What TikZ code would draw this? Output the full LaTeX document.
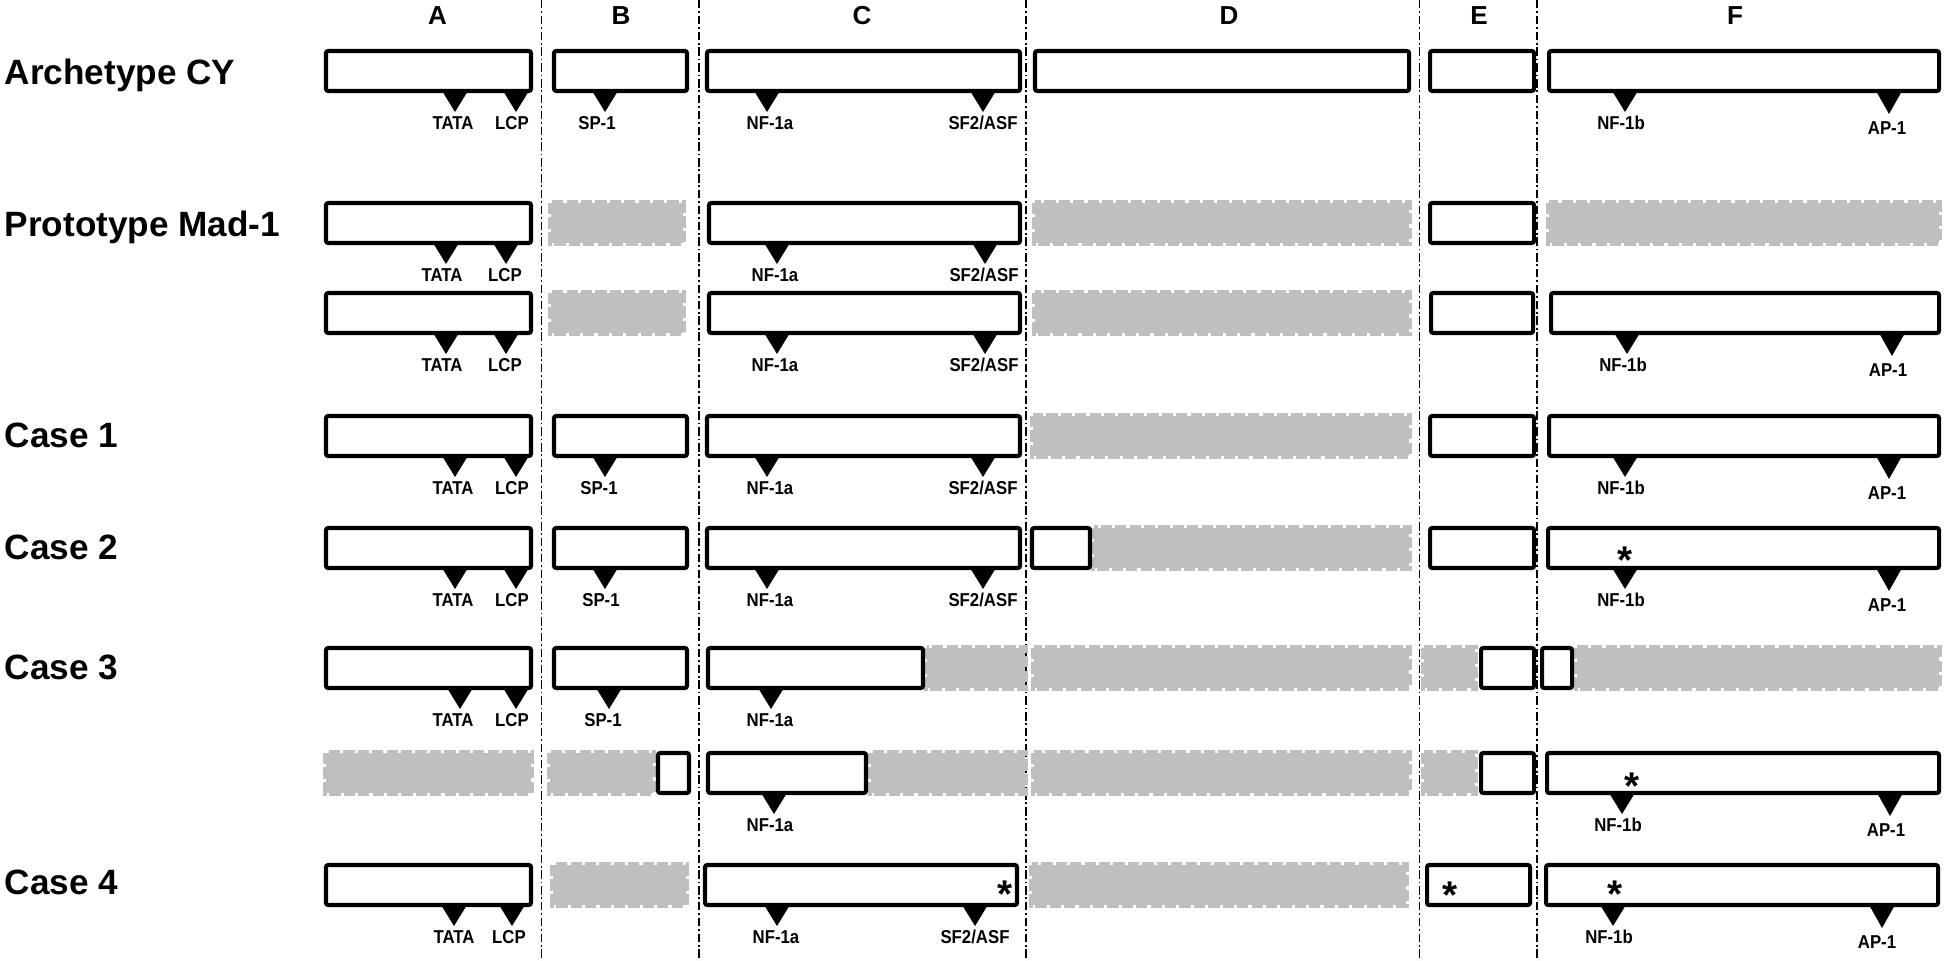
\documentclass[tikz,border=0pt]{standalone}
\usepackage{fontspec}
\setmainfont{Liberation Sans}
\newfontfamily\lblfont[FakeStretch=0.9]{Liberation Sans}
\definecolor{gblk}{RGB}{191,191,191}
\newcounter{lab}
\tikzset{
  wbox/.style={draw=black, line width=1.15pt, fill=white, rounded corners=0.6pt},
  gbox/.style={fill=gblk, draw=gblk, line width=1.5pt, dash pattern=on 3.2pt off 0.9pt},
  lbl/.style={font=\lblfont\bfseries\fontsize{5.3}{6}\selectfont, inner sep=0pt},
  rowlbl/.style={font=\bfseries\fontsize{10}{12}\selectfont, inner sep=0pt, anchor=west},
  hdr/.style={font=\bfseries\fontsize{7.4}{9}\selectfont, inner sep=0pt},
  astk/.style={font=\bfseries\fontsize{11}{12}\selectfont, inner sep=0pt},
  sep/.style={line width=0.45pt, dash pattern=on 2.4pt off 0.8pt on 0.5pt off 0.8pt}
}
% white box: x1, x2, top
\newcommand{\wbox}[3]{\draw[wbox] (#1,#3) rectangle (#2,#3+40);}
% gray (deleted) block: x1, x2, top
\newcommand{\gbox}[3]{\fill[gblk] (#1,#3) rectangle (#2,#3+40);\draw[gbox] (#1,#3) rectangle (#2,#3+40);}
% binding site: apex x, box top, label x, text
\newcommand{\site}[4]{%
  \fill (#1-13.5,#2+39) -- (#1+13.5,#2+39) -- (#1,#2+61) -- cycle;
  \stepcounter{lab}\node[lbl] (lab\arabic{lab}) at (#3,#2+72) {#4};}
\newcommand{\siteap}[3]{%
  \fill (#1-13.5,#2+39) -- (#1+13.5,#2+39) -- (#1,#2+63) -- cycle;
  \stepcounter{lab}\node[lbl] (lab\arabic{lab}) at (#3,#2+77) {AP-1};}
\newcommand{\astmark}[2]{\stepcounter{lab}\node[astk] (ast\arabic{lab}) at (#1,#2+8) {*};}
\begin{document}
\begin{tikzpicture}[x=0.01cm,y=-0.01cm]
\useasboundingbox (0,0) rectangle (1946,961);
% column separators
\foreach \xx/\nm in {541.5/ab,699/bc,1026/cd,1419.5/de,1537/ef}{
  \coordinate (t\nm) at (\xx,0);
  \coordinate (b\nm) at (\xx,961);
  \draw[sep] (t\nm) -- (b\nm);
}
% headers
\node[hdr] (hA) at (437.5,16) {A};
\node[hdr] (hB) at (621,16) {B};
\node[hdr] (hC) at (862,16) {C};
\node[hdr] (hD) at (1229,16) {D};
\node[hdr] (hE) at (1479,16) {E};
\node[hdr] (hF) at (1735,16) {F};
% row labels
\node[rowlbl] (r1) at (4,75) {Archetype CY};
\node[rowlbl] (r2) at (4,227) {Prototype Mad-1};
\node[rowlbl] (r4) at (4,435) {Case 1};
\node[rowlbl] (r5) at (4,547) {Case 2};
\node[rowlbl] (r6) at (4,667) {Case 3};
\node[rowlbl] (r8) at (4,882) {Case 4};

% ---- Row 1: Archetype CY
\def\T{51}
\wbox{326}{531}{\T}\site{455}{\T}{453}{TATA}\site{516}{\T}{512}{LCP}
\wbox{554}{687}{\T}\site{605}{\T}{597}{SP-1}
\wbox{707}{1020}{\T}\site{767}{\T}{770}{NF-1a}\site{983}{\T}{983}{SF2/ASF}
\wbox{1035}{1409}{\T}
\wbox{1430}{1534}{\T}
\wbox{1549}{1939}{\T}\site{1625}{\T}{1621}{NF-1b}\siteap{1889}{\T}{1887}

% ---- Row 2: Mad-1 (a)
\def\T{203}
\wbox{326}{531}{\T}\site{446}{\T}{442}{TATA}\site{506}{\T}{505}{LCP}
\gbox{551}{683}{\T}
\wbox{709}{1020}{\T}\site{777}{\T}{775}{NF-1a}\site{985}{\T}{984}{SF2/ASF}
\gbox{1035}{1409}{\T}
\wbox{1430}{1534}{\T}
\gbox{1549}{1939}{\T}

% ---- Row 3: Mad-1 (b)
\def\T{293}
\wbox{326}{531}{\T}\site{446}{\T}{442}{TATA}\site{506}{\T}{505}{LCP}
\gbox{551}{683}{\T}
\wbox{709}{1020}{\T}\site{777}{\T}{775}{NF-1a}\site{985}{\T}{984}{SF2/ASF}
\gbox{1035}{1409}{\T}
\wbox{1431}{1533}{\T}
\wbox{1551}{1939}{\T}\site{1627}{\T}{1623}{NF-1b}\siteap{1892}{\T}{1888}

% ---- Row 4: Case 1
\def\T{416}
\wbox{326}{531}{\T}\site{455}{\T}{453}{TATA}\site{516}{\T}{512}{LCP}
\wbox{554}{687}{\T}\site{605}{\T}{599}{SP-1}
\wbox{707}{1020}{\T}\site{767}{\T}{770}{NF-1a}\site{983}{\T}{983}{SF2/ASF}
\gbox{1033}{1409}{\T}
\wbox{1430}{1534}{\T}
\wbox{1549}{1939}{\T}\site{1625}{\T}{1621}{NF-1b}\siteap{1889}{\T}{1887}

% ---- Row 5: Case 2
\def\T{528}
\wbox{326}{531}{\T}\site{455}{\T}{453}{TATA}\site{516}{\T}{512}{LCP}
\wbox{554}{687}{\T}\site{605}{\T}{601}{SP-1}
\wbox{707}{1020}{\T}\site{767}{\T}{770}{NF-1a}\site{983}{\T}{983}{SF2/ASF}
\gbox{1094}{1409}{\T}\wbox{1032}{1090}{\T}
\wbox{1430}{1534}{\T}
\wbox{1548}{1939}{\T}\site{1625}{\T}{1621}{NF-1b}\siteap{1889}{\T}{1887}
\astmark{1625}{552}

% ---- Row 6: Case 3 (a)
\def\T{648}
\wbox{326}{531}{\T}\site{460}{\T}{453}{TATA}\site{516}{\T}{512}{LCP}
\wbox{554}{687}{\T}\site{609}{\T}{603}{SP-1}
\gbox{927}{1025}{\T}\wbox{708}{923}{\T}\site{771}{\T}{770}{NF-1a}
\gbox{1034}{1409}{\T}
\gbox{1424}{1475}{\T}\wbox{1481}{1534}{\T}
\gbox{1577}{1939}{\T}\wbox{1542}{1572}{\T}

% ---- Row 7: Case 3 (b)
\def\T{753}
\gbox{326}{531}{\T}
\gbox{550}{653}{\T}\wbox{658}{689}{\T}
\gbox{871}{1025}{\T}\wbox{708}{866}{\T}\site{774}{\T}{770}{NF-1a}
\gbox{1034}{1409}{\T}
\gbox{1424}{1475}{\T}\wbox{1481}{1534}{\T}
\wbox{1547}{1939}{\T}\site{1622}{\T}{1618}{NF-1b}\siteap{1890}{\T}{1886}
\astmark{1632}{778}

% ---- Row 8: Case 4
\def\T{865}
\wbox{326}{531}{\T}\site{454}{\T}{454}{TATA}\site{512}{\T}{509}{LCP}
\gbox{553}{686}{\T}
\wbox{705}{1017}{\T}\site{777}{\T}{776}{NF-1a}\site{975}{\T}{975}{SF2/ASF}
\astmark{1005}{886}
\gbox{1032}{1406}{\T}
\wbox{1427}{1530}{\T}\astmark{1450}{887}
\wbox{1546}{1938}{\T}\site{1613}{\T}{1609}{NF-1b}\siteap{1882}{\T}{1877}
\astmark{1615}{886}
\end{tikzpicture}
\end{document}
